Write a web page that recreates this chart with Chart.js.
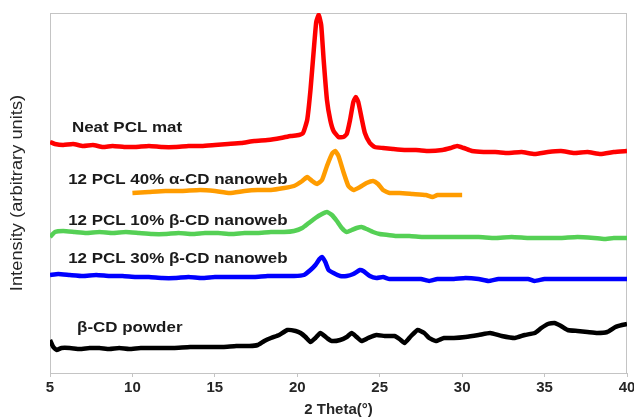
<!DOCTYPE html>
<html>
<head>
<meta charset="utf-8">
<script src="https://cdn.jsdelivr.net/npm/chart.js@4.4.1/dist/chart.umd.min.js"></script>
<style>
html,body{margin:0;padding:0;background:#fff;}
#wrap{width:634px;height:420px;position:relative;}
</style>
</head>
<body>
<div id="wrap"><canvas id="c" width="634" height="420"></canvas></div>
<script>
// 2 Theta tick labels
const xTicks = [5, 10, 15, 20, 25, 30, 35, 40];

// Series: [2theta, intensity (arbitrary units)]
const neatPCL = [[5.0,231],[5.3,229],[5.8,228],[6.4,229],[7.0,227],[7.6,228],[8.2,226],[8.8,227],[9.5,226],[10.2,226],[11.0,227],[11.8,226],[12.6,226],[13.4,227],[14.2,227],[15.0,228],[15.8,229],[16.6,230],[17.4,232],[18.2,233],[19.0,235],[19.6,237],[20.1,238],[20.35,240],[20.6,253],[20.8,283],[21.0,323],[21.15,351],[21.3,358],[21.45,348],[21.6,313],[21.8,273],[22.0,253],[22.2,242],[22.5,236],[22.8,236],[23.0,239],[23.2,253],[23.4,271],[23.55,276],[23.7,271],[23.9,255],[24.1,240],[24.4,230],[24.7,226],[25.2,225],[25.8,224],[26.5,223],[27.2,223],[28.0,222],[28.8,223],[29.3,225],[29.7,227],[30.1,225],[30.6,222],[31.3,221],[32.0,221],[32.8,220],[33.6,221],[34.4,219],[35.2,221],[36.0,222],[36.8,220],[37.6,221],[38.4,219],[39.2,221],[40.0,222]];

const alphaCD40 = [[10.0,180],[11.0,181],[12.0,182],[13.0,182],[14.1,183],[15.0,182],[15.9,180],[16.8,182],[17.6,183],[18.4,183],[19.2,185],[19.8,187],[20.3,192],[20.6,196],[20.9,192],[21.2,189],[21.5,193],[21.8,207],[22.1,219],[22.3,222],[22.5,217],[22.8,201],[23.1,187],[23.4,183],[23.8,186],[24.2,190],[24.6,192],[24.9,189],[25.2,183],[25.6,180],[26.2,180],[27.0,179],[27.8,178],[28.2,176],[28.5,178],[29.3,178],[30.0,178]];

const betaCD10 = [[5.0,136],[5.3,141],[5.8,142],[6.5,141],[7.2,140],[8.0,141],[8.8,140],[9.6,141],[10.4,140],[11.2,139],[12.0,139],[12.8,140],[13.6,139],[14.4,140],[15.2,140],[16.0,139],[16.8,140],[17.6,140],[18.4,141],[19.2,141],[19.8,142],[20.3,145],[20.7,150],[21.1,155],[21.5,159],[21.8,161],[22.1,158],[22.4,152],[22.7,145],[23.0,141],[23.3,143],[23.6,145],[23.9,146],[24.2,144],[24.6,141],[25.0,139],[25.5,138],[26.0,137],[26.8,137],[27.6,136],[28.4,136],[29.2,136],[30.0,136],[31.0,136],[32.0,135],[33.0,136],[34.0,135],[35.0,135],[36.0,135],[37.0,136],[38.0,135],[38.6,134],[39.2,135],[40.0,135]];

const betaCD30 = [[5.0,98],[5.5,99],[6.2,98],[7.0,97],[7.8,98],[8.6,97],[9.4,97],[10.2,96],[11.0,96],[11.8,95],[12.6,95],[13.4,96],[14.2,95],[15.0,96],[15.8,96],[16.6,96],[17.4,96],[18.2,97],[19.0,97],[19.8,97],[20.4,98],[20.8,103],[21.1,108],[21.35,114],[21.5,116],[21.7,111],[21.9,103],[22.2,100],[22.6,97],[23.0,97],[23.4,99],[23.8,103],[24.0,102],[24.4,97],[24.8,95],[25.2,96],[25.6,94],[26.5,94],[27.5,94],[28.0,92],[28.5,94],[29.5,94],[30.2,95],[31.0,94],[31.6,92],[32.2,94],[33.0,94],[34.0,94],[34.4,92],[35.0,94],[36.0,94],[37.0,94],[38.0,94],[39.0,94],[40.0,94]];

const betaCDpowder = [[5.0,33],[5.2,26],[5.4,23],[5.7,25],[6.2,25],[6.8,24],[7.4,25],[8.0,25],[8.6,24],[9.2,25],[9.8,24],[10.5,25],[11.5,25],[12.5,25],[13.5,26],[14.5,26],[15.5,26],[16.3,27],[17.1,27],[17.6,28],[18.0,32],[18.4,35],[18.9,38],[19.4,43],[19.9,42],[20.2,40],[20.5,36],[20.8,31],[21.1,35],[21.4,40],[21.8,35],[22.1,32],[22.6,33],[23.0,36],[23.3,40],[23.6,36],[23.9,32],[24.3,35],[24.8,38],[25.3,37],[25.9,37],[26.2,34],[26.5,30],[26.9,37],[27.3,43],[27.7,40],[28.0,35],[28.4,32],[28.9,35],[29.5,35],[30.2,36],[31.0,38],[31.7,40],[32.4,37],[33.2,35],[33.8,38],[34.4,40],[34.8,45],[35.2,49],[35.6,50],[36.0,47],[36.4,43],[37.0,42],[37.6,41],[38.2,40],[38.8,41],[39.3,46],[39.7,48],[40.0,49]];

const seriesNames = ["Neat PCL mat", "12 PCL 40% \u03B1-CD nanoweb", "12 PCL 10% \u03B2-CD nanoweb", "12 PCL 30% \u03B2-CD nanoweb", "\u03B2-CD powder"];
const seriesColors = ["#ff0000", "#ff9c00", "#55d055", "#0000ff", "#000000"];
const seriesData = [neatPCL, alphaCD40, betaCD10, betaCD30, betaCDpowder];
// label anchor (2theta, intensity) for each in-plot text label
const labelAnchors = [[6.33,245],[6.1,193],[6.1,152],[6.1,114],[6.64,45]];
const yTitle = "Intensity (arbitrary units)";
const xTitle = "2 Theta(\u00B0)";

const FONT = "'Liberation Sans', Arial, sans-serif";

const labelPlugin = {
  id: 'labels',
  beforeDatasetsDraw(chart) {
    const {ctx, chartArea} = chart;
    ctx.save();
    ctx.strokeStyle = "#c4c4c4";
    ctx.lineWidth = 1;
    ctx.strokeRect(chartArea.left + 0.5, chartArea.top + 0.5, chartArea.right - chartArea.left - 1, chartArea.bottom - chartArea.top);
    // y axis title
    ctx.font = "15px " + FONT;
    ctx.fillStyle = "#262626";
    ctx.textAlign = "center";
    ctx.textBaseline = "middle";
    ctx.translate(18, (chartArea.top + chartArea.bottom) / 2);
    ctx.rotate(-Math.PI / 2);
    ctx.scale(1.22, 1.05);
    ctx.fillText(yTitle, 0, 0);
    ctx.restore();
  },
  afterDatasetsDraw(chart) {
    const {ctx, scales} = chart;
    ctx.save();
    ctx.font = "bold 15px " + FONT;
    ctx.fillStyle = "#1a1a1a";
    ctx.textBaseline = "middle";
    seriesNames.forEach((t, i) => {
      const px = scales.x.getPixelForValue(labelAnchors[i][0]);
      const py = scales.y.getPixelForValue(labelAnchors[i][1]);
      ctx.save();
      ctx.translate(px, py);
      ctx.scale(1.13, 1.03);
      ctx.fillText(t, 0, 0);
      ctx.restore();
    });
    ctx.restore();
  }
};

new Chart(document.getElementById('c'), {
  type: 'line',
  data: {
    datasets: seriesData.map((d, i) => ({
      label: seriesNames[i],
      data: d.map(p => ({x: p[0], y: p[1]})),
      borderColor: seriesColors[i],
      backgroundColor: seriesColors[i],
      borderWidth: 4.5,
      pointRadius: 0,
      tension: 0.15,
      fill: false
    }))
  },
  options: {
    responsive: false,
    animation: false,
    devicePixelRatio: 1,
    layout: {padding: {left: 0, right: 7, top: 13, bottom: 0}},
    plugins: {legend: {display: false}, tooltip: {enabled: false}},
    scales: {
      x: {
        type: 'linear',
        min: 5, max: 40,
        afterBuildTicks(scale) { scale.ticks = xTicks.map(v => ({value: v})); },
        afterFit(scale) { scale.height = 47; scale.paddingLeft = 0; scale.paddingRight = 0; },
        grid: {display: true, drawOnChartArea: false, drawTicks: true, tickLength: 4, color: "#c4c4c4"},
        border: {display: false},
        ticks: {font: {family: FONT, size: 15, weight: 'bold'}, color: "#262626", padding: 2, maxRotation: 0},
        title: {display: true, text: xTitle, font: {family: FONT, size: 15, weight: 'bold'}, color: "#262626", padding: {top: 0, bottom: 1}}
      },
      y: {
        type: 'linear',
        min: 0, max: 360,
        afterFit(scale) { scale.width = 50; },
        grid: {display: false},
        border: {display: false},
        ticks: {display: false},
        title: {display: false}
      }
    }
  },
  plugins: [labelPlugin]
});
</script>
</body>
</html>
